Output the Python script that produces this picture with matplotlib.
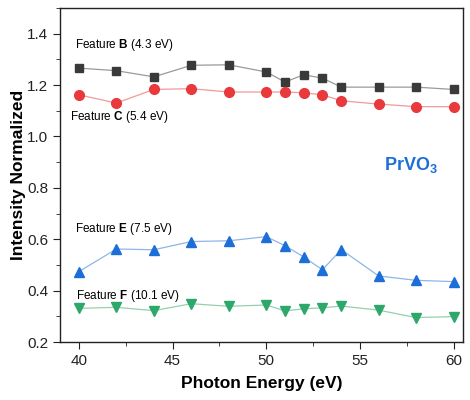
import matplotlib
matplotlib.use("Agg")
import matplotlib.pyplot as plt
from matplotlib.ticker import MultipleLocator

plt.rcParams['font.family'] = ['Liberation Sans', 'DejaVu Sans']
plt.rcParams['mathtext.fontset'] = 'custom'
plt.rcParams['mathtext.rm'] = 'Liberation Sans'
plt.rcParams['mathtext.bf'] = 'Liberation Sans:bold'

energy = [40, 42, 44, 46, 48, 50, 51, 52, 53, 54, 56, 58, 60]
feat_b = [1.266, 1.256, 1.232, 1.277, 1.279, 1.251, 1.212, 1.240, 1.227, 1.192, 1.192, 1.192, 1.183]
feat_c = [1.162, 1.130, 1.183, 1.186, 1.173, 1.173, 1.173, 1.170, 1.162, 1.139, 1.126, 1.116, 1.116]
feat_e = [0.474, 0.562, 0.559, 0.591, 0.594, 0.610, 0.575, 0.531, 0.481, 0.560, 0.457, 0.440, 0.435]
feat_f = [0.331, 0.335, 0.322, 0.349, 0.339, 0.344, 0.321, 0.329, 0.333, 0.340, 0.324, 0.295, 0.299]

fig = plt.figure(figsize=(4.7, 4.0), dpi=100)
ax = fig.add_axes([0.128, 0.145, 0.857, 0.835])

# series: values, marker, marker colour, line colour, marker size
series = [
    (feat_b, 's', '#3a3a3a', '#9a9a9a', 6),
    (feat_c, 'o', '#e8393c', '#f09a9a', 7),
    (feat_e, '^', '#1c6fd8', '#8fb5e8', 7),
    (feat_f, 'v', '#2ea86a', '#94d0b0', 7),
]
for vals, mk, mc, lc, ms in series:
    ax.plot(energy, vals, color=lc, lw=0.9, marker=mk, ms=ms,
            markerfacecolor=mc, markeredgecolor=mc, zorder=3)

fs = 8.5
ax.text(39.8, 1.357, r'Feature $\mathbf{B}$ (4.3 eV)', fontsize=fs, va='center')
ax.text(39.55, 1.077, r'Feature $\mathbf{C}$ (5.4 eV)', fontsize=fs, va='center')
ax.text(39.8, 0.640, r'Feature $\mathbf{E}$ (7.5 eV)', fontsize=fs, va='center')
ax.text(39.85, 0.380, r'Feature $\mathbf{F}$ (10.1 eV)', fontsize=fs, va='center')
ax.text(56.3, 0.89, r'$\mathbf{PrVO}_{\mathbf{3}}$', fontsize=13, color='#1c6fd8',
        va='center')

ax.set_xlim(39, 60.5)
ax.set_ylim(0.2, 1.5)
ax.xaxis.set_major_locator(MultipleLocator(5))
ax.xaxis.set_minor_locator(MultipleLocator(2.5))
ax.yaxis.set_minor_locator(MultipleLocator(0.1))
ax.set_yticks([0.2, 0.4, 0.6, 0.8, 1.0, 1.2, 1.4])
ax.tick_params(which='both', direction='out', labelsize=11, colors='#222222')
ax.tick_params(which='major', length=5)
ax.tick_params(which='minor', length=3)
for sp in ax.spines.values():
    sp.set_linewidth(1.0)
    sp.set_color('#222222')

ax.set_xlabel('Photon Energy (eV)', fontsize=12.5, fontweight='bold', labelpad=6)
ax.set_ylabel('Intensity Normalized', fontsize=12.5, fontweight='bold', labelpad=1)

fig.savefig('out.png', dpi=100)
